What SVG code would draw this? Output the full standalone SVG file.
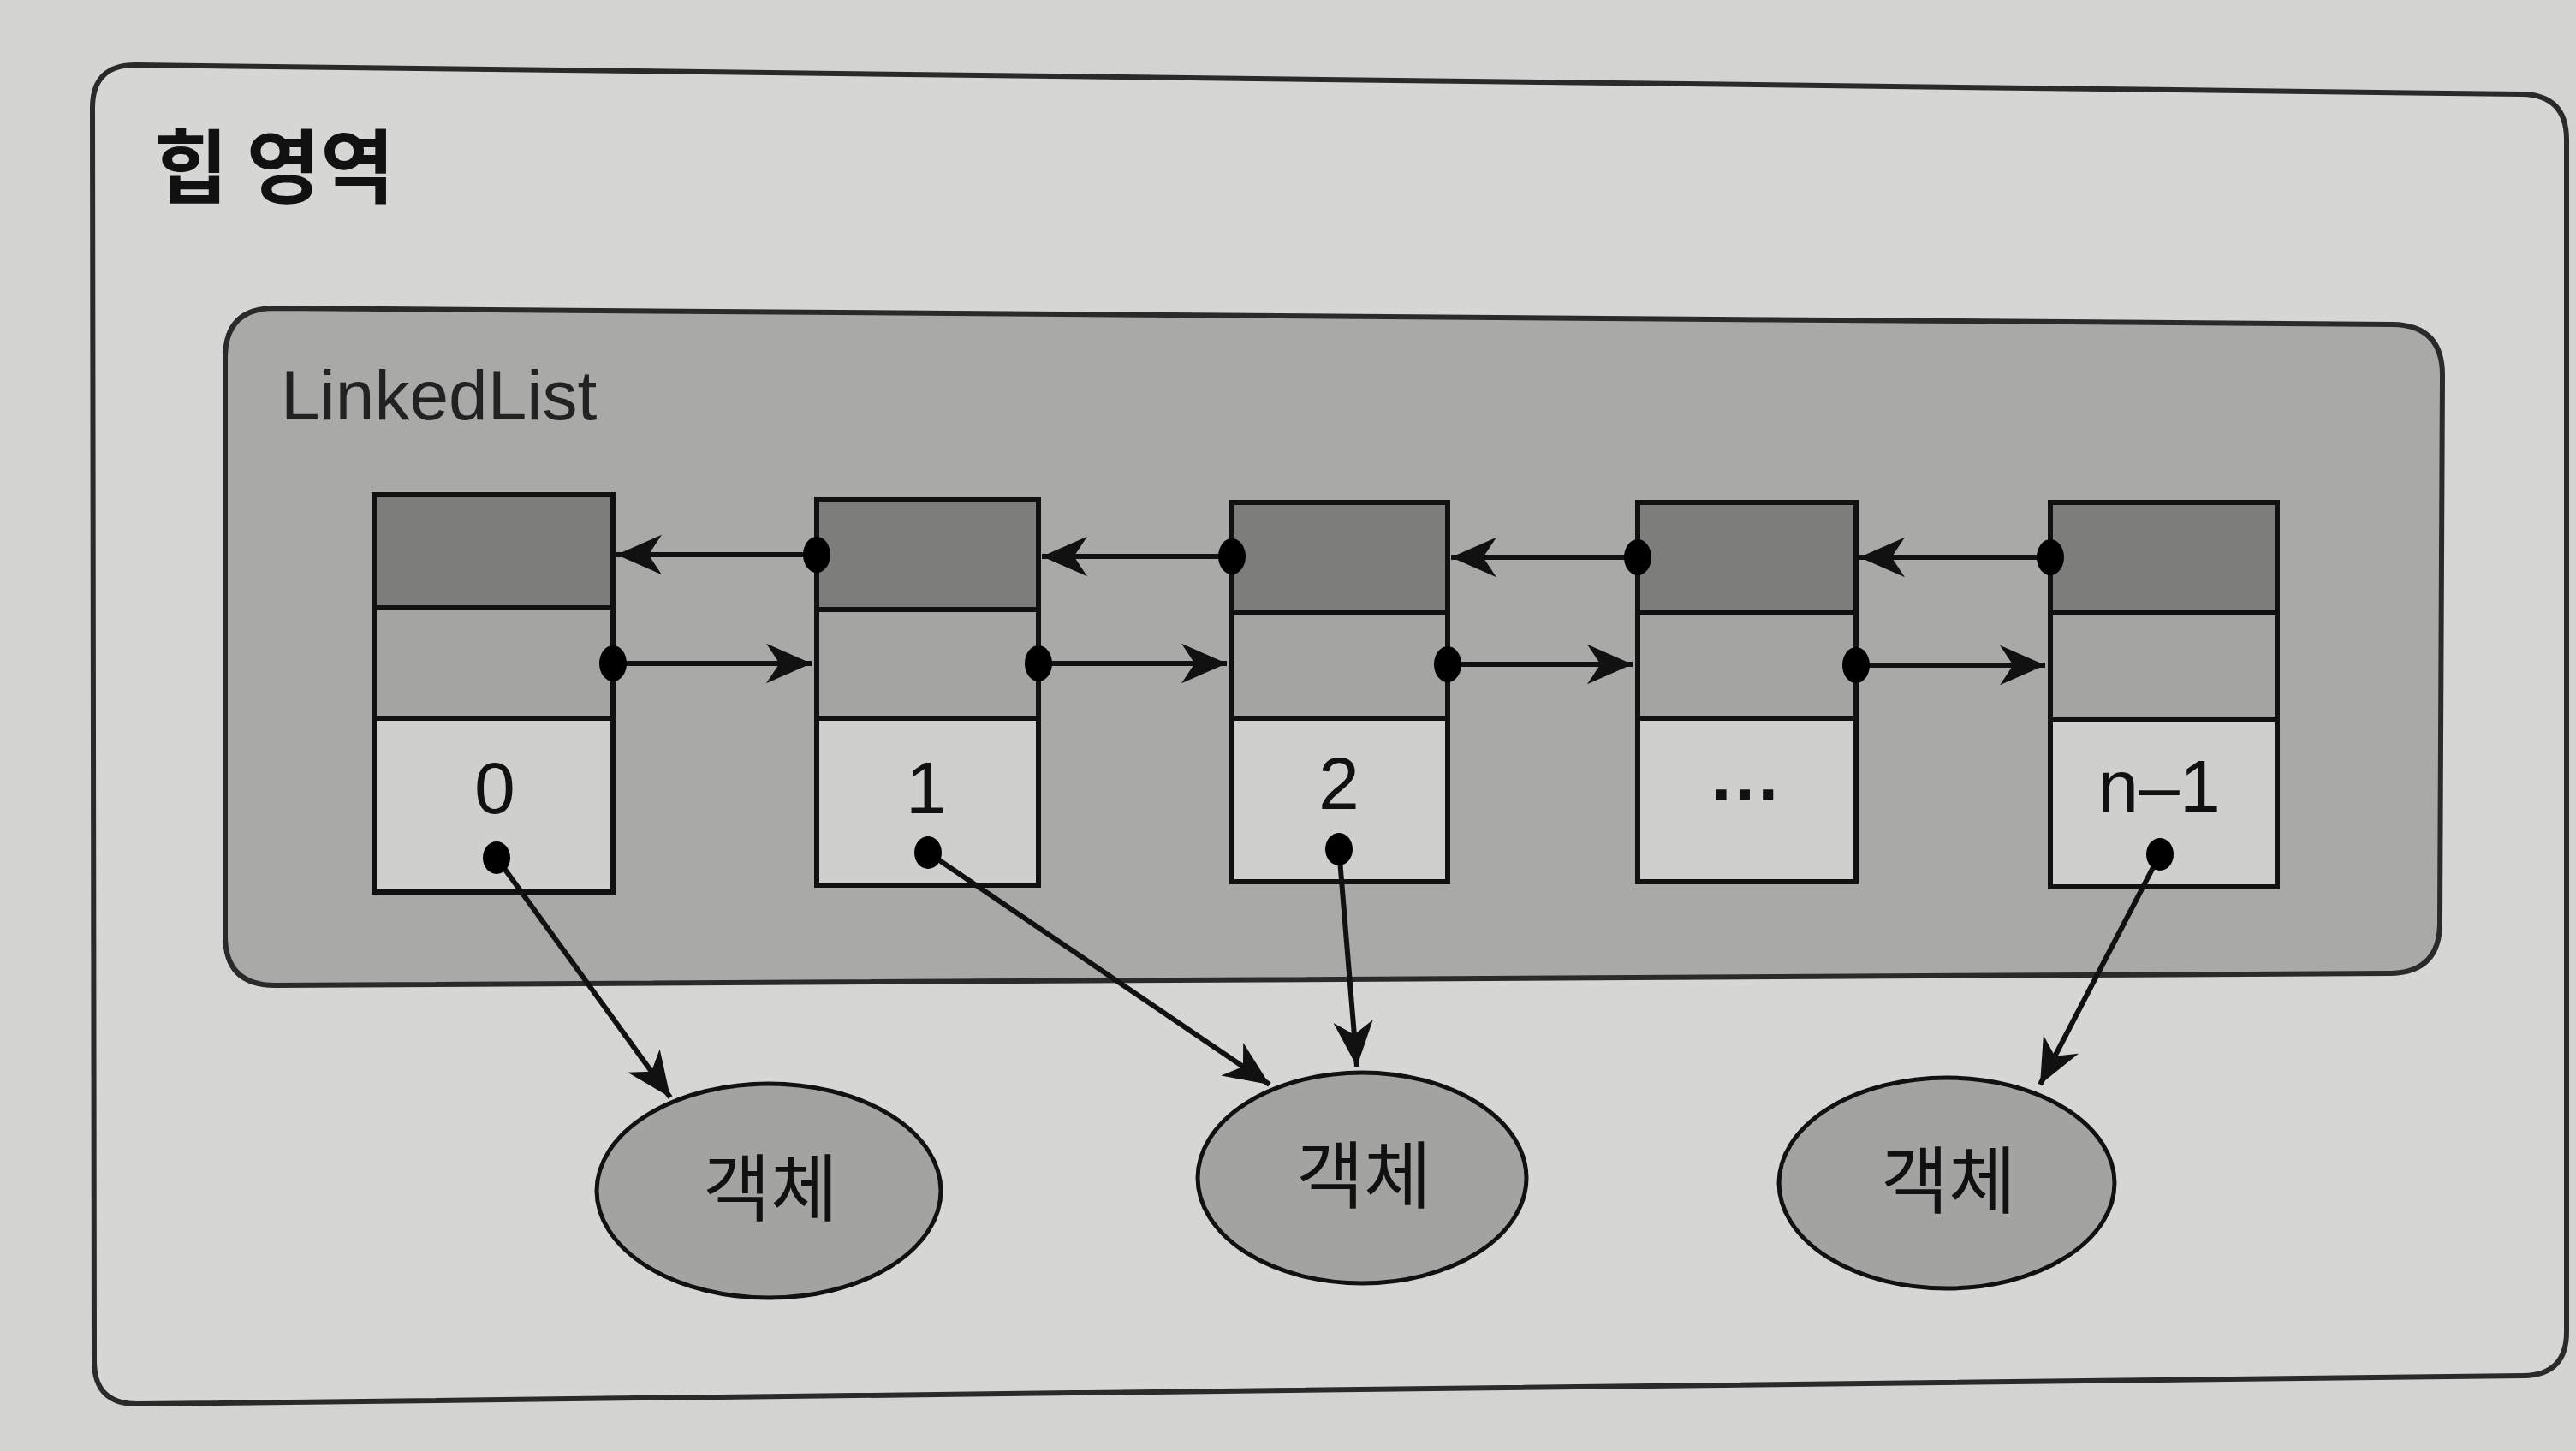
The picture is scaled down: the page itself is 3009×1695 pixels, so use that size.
<svg xmlns="http://www.w3.org/2000/svg" width="3009" height="1695" viewBox="0 0 3009 1695">
<style>
.cell{stroke:#111;stroke-width:6}
.top{fill:#7d7d7c}
.mid{fill:#a4a4a2}
.bot{fill:#cfcfcd}
.lbl{font-family:"Liberation Sans",Arial,sans-serif;font-size:86px;fill:#111;text-anchor:middle}
.kr{font-family:"Noto Sans CJK KR","Noto Sans",sans-serif;fill:#111}
.dot{fill:#000}
.conn{stroke:#111;stroke-width:6;fill:none;marker-end:url(#ah)}
.obj{fill:#a3a3a1;stroke:#111;stroke-width:5}
</style>
<defs>
<marker id="ah" markerUnits="userSpaceOnUse" markerWidth="64" markerHeight="64" viewBox="-54 -27 58 54" refX="0" refY="0" orient="auto">
<path d="M0,0 L-48,-21 L-34,0 L-48,21 Z" fill="#111"/>
</marker>
</defs>
<rect width="3009" height="1695" fill="#d3d3d1"/>
<g id="heap">
<path d="M160,76 L2946,110 Q2998,111 2998,163 L2998,1556 Q2998,1606 2948,1607 L162,1640 Q110,1641 110,1590 L108,126 Q108,75 160,76 Z" fill="#d6d6d4" stroke="#2a2a2a" stroke-width="6"/>
<text x="180" y="230" class="kr" font-size="94" font-weight="bold">힙 영역</text>
</g>
<g id="linkedlist">
<path d="M321,360 L2795,379 Q2853,380 2853,438 L2850,1078 Q2850,1136 2792,1137 L321,1151 Q263,1151 263,1093 L263,418 Q263,360 321,360 Z" fill="#a9a9a7" stroke="#2a2a2a" stroke-width="6"/>
<text x="328" y="490" font-family="Liberation Sans,Arial,sans-serif" font-size="82" fill="#222">LinkedList</text>
</g>
<g id="node0">
<rect class="cell top" x="437" y="578" width="279" height="132"/>
<rect class="cell mid" x="437" y="710" width="279" height="129"/>
<rect class="cell bot" x="437" y="839" width="279" height="203"/>
<text class="lbl" x="578" y="950">0</text>
</g>
<g id="node1">
<rect class="cell top" x="954" y="583" width="259" height="129"/>
<rect class="cell mid" x="954" y="712" width="259" height="127"/>
<rect class="cell bot" x="954" y="839" width="259" height="195"/>
<text class="lbl" x="1082" y="950">1</text>
</g>
<g id="node2">
<rect class="cell top" x="1439" y="587" width="252" height="129"/>
<rect class="cell mid" x="1439" y="716" width="252" height="123"/>
<rect class="cell bot" x="1439" y="839" width="252" height="191"/>
<text class="lbl" x="1564" y="945">2</text>
</g>
<g id="node3">
<rect class="cell top" x="1913" y="587" width="255" height="129"/>
<rect class="cell mid" x="1913" y="716" width="255" height="123"/>
<rect class="cell bot" x="1913" y="839" width="255" height="191"/>
<text class="lbl" x="2038" y="935" font-weight="bold">…</text>
</g>
<g id="node4">
<rect class="cell top" x="2395" y="587" width="265" height="129"/>
<rect class="cell mid" x="2395" y="716" width="265" height="124"/>
<rect class="cell bot" x="2395" y="840" width="265" height="196"/>
<text class="lbl" x="2522" y="948">n–1</text>
</g>
<g id="obj1">
<ellipse class="obj" cx="898" cy="1391" rx="201" ry="125"/>
<text class="kr" x="900" y="1420" font-size="86" text-anchor="middle">객체</text>
</g>
<g id="obj2">
<ellipse class="obj" cx="1591" cy="1376" rx="192" ry="123"/>
<text class="kr" x="1593" y="1405" font-size="86" text-anchor="middle">객체</text>
</g>
<g id="obj3">
<ellipse class="obj" cx="2274" cy="1382" rx="196" ry="123"/>
<text class="kr" x="2276" y="1411" font-size="86" text-anchor="middle">객체</text>
</g>
<g id="connectors">
<line class="conn" x1="954" y1="648" x2="720" y2="648"/>
<line class="conn" x1="1439" y1="650" x2="1217" y2="650"/>
<line class="conn" x1="1913" y1="651" x2="1695" y2="651"/>
<line class="conn" x1="2395" y1="651" x2="2172" y2="651"/>
<line class="conn" x1="716" y1="775" x2="948" y2="775"/>
<line class="conn" x1="1213" y1="775" x2="1433" y2="775"/>
<line class="conn" x1="1691" y1="776" x2="1907" y2="776"/>
<line class="conn" x1="2168" y1="777" x2="2389" y2="777"/>
<line class="conn" x1="580" y1="1002" x2="783" y2="1282"/>
<line class="conn" x1="1084" y1="996" x2="1483" y2="1267"/>
<line class="conn" x1="1564" y1="992" x2="1585" y2="1246"/>
<line class="conn" x1="2523" y1="998" x2="2383" y2="1267"/>
<ellipse class="dot" cx="954" cy="648" rx="16" ry="21"/>
<ellipse class="dot" cx="1439" cy="650" rx="16" ry="21"/>
<ellipse class="dot" cx="1913" cy="651" rx="16" ry="21"/>
<ellipse class="dot" cx="2395" cy="651" rx="16" ry="21"/>
<ellipse class="dot" cx="716" cy="775" rx="16" ry="21"/>
<ellipse class="dot" cx="1213" cy="775" rx="16" ry="21"/>
<ellipse class="dot" cx="1691" cy="776" rx="16" ry="21"/>
<ellipse class="dot" cx="2168" cy="777" rx="16" ry="21"/>
<ellipse class="dot" cx="580" cy="1002" rx="16" ry="19"/>
<ellipse class="dot" cx="1084" cy="996" rx="16" ry="19"/>
<ellipse class="dot" cx="1564" cy="992" rx="16" ry="19"/>
<ellipse class="dot" cx="2523" cy="998" rx="16" ry="19"/>
</g>
</svg>
